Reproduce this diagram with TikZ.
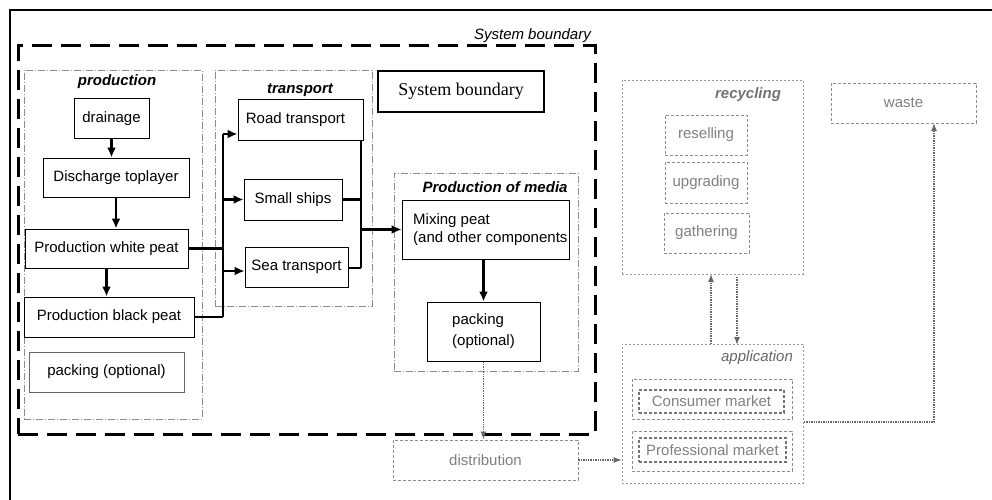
\documentclass[tikz,border=0pt]{standalone}
\usepackage{fontspec}
\setmainfont{Liberation Sans}
\newfontfamily\serifface{Liberation Serif}
\usetikzlibrary{arrows.meta}
\begin{document}
\begin{tikzpicture}[x=1pt,y=-1pt,
  font=\fontsize{15}{18}\selectfont,
  box/.style={draw=black, line width=1pt, inner sep=0pt, align=center},
  gbox/.style={draw=black!45, line width=0.8pt, densely dashed, inner sep=0pt, text=black!50, align=center},
  gboxin/.style={draw=black!55, line width=1.3pt, densely dashed, inner sep=0pt, text=black!50, align=center},
  grp/.style={draw=black!45, line width=0.6pt, dash pattern=on 7pt off 2pt on 1pt off 2pt, inner sep=0pt},
  ggrp/.style={draw=black!40, line width=0.6pt, dash pattern=on 2pt off 2pt, inner sep=0pt},
  grplabel/.style={font=\fontsize{15}{18}\selectfont\bfseries\itshape, inner sep=0pt},
  ggrplabel/.style={font=\fontsize{15}{18}\selectfont\itshape, text=black!60, inner sep=0pt},
  conn/.style={draw=black, line width=2.6pt},
  arr/.style={conn, -{Latex[length=10pt,width=9pt]}},
  garr/.style={draw=black!60, line width=1.4pt, densely dotted, -{Latex[length=8pt,width=6pt]}},
  bound/.style={draw=black, line width=3pt, dash pattern=on 20pt off 9pt}
]
\useasboundingbox (0,0) rectangle (992,500);
% outer frame
\draw[line width=1.3pt] (10,500) -- (10,10) -- (992,10);
% system boundary
\node[bound, minimum width=577, minimum height=388, inner sep=0pt] (boundary) at (306.5,240) {};
\node[font=\fontsize{15}{18}\selectfont\itshape, anchor=south east, inner sep=1pt] (boundlabel) at (592,44) {System boundary};

% groups
\node[grp, minimum width=178, minimum height=349] (prodgrp) at (113,244.5) {};
\node[grp, minimum width=157, minimum height=236] (transgrp) at (293.5,188) {};
\node[grp, minimum width=184, minimum height=198] (mediagrp) at (486,272) {};
\node[ggrp, minimum width=181, minimum height=194] (recgrp) at (712.5,177) {};
\node[ggrp, minimum width=181, minimum height=139] (appgrp) at (712.5,413.5) {};

\node[grplabel] (prodlab) at (117,82) {production};
\node[grplabel] (translab) at (300,90) {transport};
\node[grplabel] (medialab) at (495,187) {Production of media};
\node[ggrplabel, font=\fontsize{15}{18}\selectfont\bfseries\itshape, text=black!55] (reclab) at (748,95) {recycling};
\node[ggrplabel] (applab) at (757,358) {application};

% production
\node[box, minimum width=75, minimum height=39] (drainage) at (111.5,118.5) {drainage};
\node[box, minimum width=146, minimum height=39] (discharge) at (116,177.5) {Discharge toplayer};
\node[box, minimum width=163, minimum height=39] (white) at (106.5,248.5) {Production white peat};
\node[box, minimum width=170, minimum height=40] (black) at (109,317) {Production black peat};
\node[box, draw=black!60, minimum width=155, minimum height=40] (pack1) at (106.5,372) {packing (optional)};

% transport
\node[box, minimum width=125, minimum height=40] (road) at (300.5,120) {Road transport\hspace*{10pt}};
\node[box, minimum width=98, minimum height=41] (small) at (293,199.5) {Small ships};
\node[box, minimum width=103, minimum height=40] (sea) at (296.5,267) {Sea transport};

% system boundary legend box
\node[box, line width=1.8pt, minimum width=166, minimum height=41, font=\serifface\fontsize{18}{20}\selectfont] (sysbox) at (461,91.5) {System boundary};

% media
\node[box, minimum width=167, minimum height=59] (mixing) at (485.5,229.5) {};
\node[anchor=west, align=left, inner sep=0pt] (mixtxt) at (413,230) {Mixing peat\\(and other components};
\node[box, minimum width=113, minimum height=59, align=left] (pack2) at (483.5,331.5) {packing\\[3pt](optional)};

% distribution
\node[gbox, minimum width=185, minimum height=40] (distr) at (485.5,460) {distribution};

% recycling
\node[gbox, minimum width=82, minimum height=40] (resell) at (706,135) {reselling};
\node[gbox, minimum width=82, minimum height=41] (upgrade) at (706,182.5) {upgrading};
\node[gbox, minimum width=85, minimum height=40] (gather) at (706.5,233) {gathering};

% waste
\node[gbox, minimum width=145, minimum height=40] (waste) at (903.5,103) {waste};

% application
\node[gbox, minimum width=160, minimum height=40] (consout) at (712,399) {};
\node[gboxin, minimum width=145, minimum height=23] (cons) at (711.5,401.5) {Consumer market};
\node[gbox, minimum width=160, minimum height=40] (profout) at (712,451) {};
\node[gboxin, minimum width=147, minimum height=24] (prof) at (712.5,450) {Professional market};

% connectors: production
\draw[arr] (drainage.south) -- (drainage.south |- discharge.north);
\draw[arr] (discharge.south) -- (discharge.south |- white.north);
\draw[arr] (white.south) -- (white.south |- black.north);

% trunk to transport
\coordinate (tTop) at (223,134);
\coordinate (tBot) at (223,317);
\draw[conn] (tTop) -- (tBot);
\draw[conn] (white.east) -- (white.east -| tTop);
\draw[conn] (black.east) -- (black.east -| tTop);
\draw[arr] (tTop) -- (tTop -| road.west);
\draw[arr] (small.west -| tTop) -- (small.west);
\draw[arr] (223,271) -- (223,271 -| sea.west);

% merge to mixing
\coordinate (mTop) at (361,140);
\coordinate (mBot) at (361,268);
\draw[conn] (mTop) -- (mBot);
\draw[conn] (small.east) -- (small.east -| mTop);
\draw[conn] (sea.east |- mBot) -- (mBot);
\draw[arr, line width=3.4pt] (mixing.west -| mTop) -- (mixing.west);

% media flow
\draw[arr] (mixing.south -| pack2.north) -- (pack2.north);
\draw[garr] (pack2.south) -- (pack2.south |- distr.north);

% gray flows
\draw[garr] (distr.east) -- (distr.east -| appgrp.west);
\draw[garr] (711,344) -- (711,274);
\draw[garr] (737,277) -- (737,345);
\coordinate (cw) at (804,422);
\coordinate (wIn) at (934,123);
\draw[garr] (cw) -| (wIn);
\end{tikzpicture}
\end{document}
